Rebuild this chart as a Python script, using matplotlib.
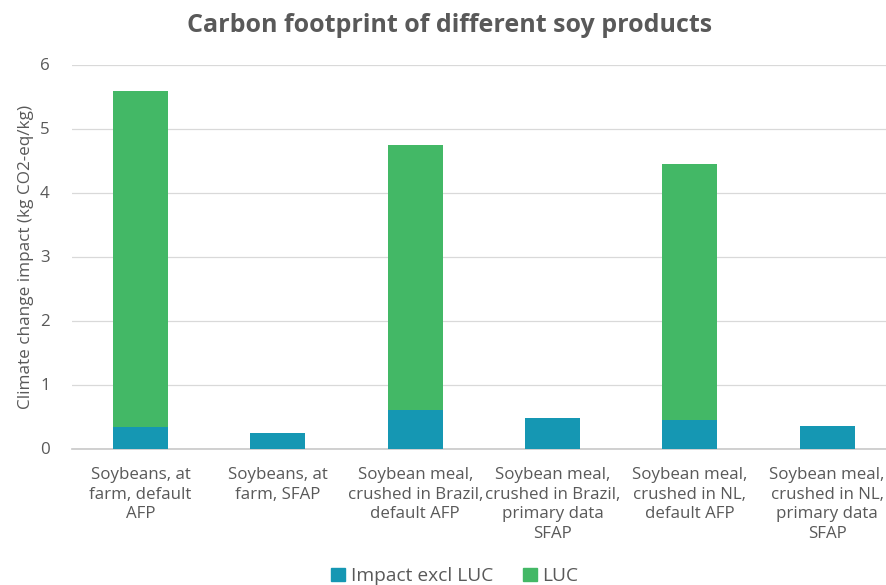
import matplotlib
matplotlib.use("Agg")
import matplotlib.pyplot as plt
from matplotlib.patches import Patch

plt.rcParams['font.family'] = ['Open Sans', 'DejaVu Sans']

categories = [
    "Soybeans, at\nfarm, default\nAFP",
    "Soybeans, at\nfarm, SFAP",
    "Soybean meal,\ncrushed in Brazil,\ndefault AFP",
    "Soybean meal,\ncrushed in Brazil,\nprimary data\nSFAP",
    "Soybean meal,\ncrushed in NL,\ndefault AFP",
    "Soybean meal,\ncrushed in NL,\nprimary data\nSFAP",
]
impact_excl_luc = [0.33, 0.25, 0.60, 0.48, 0.45, 0.35]
luc = [5.26, 0.0, 4.15, 0.0, 4.00, 0.0]
yticks = [0, 1, 2, 3, 4, 5, 6]

blue = "#1597b3"
green = "#43b866"
text_gray = "#595959"

W, H = 886, 585
fig = plt.figure(figsize=(W / 100, H / 100), dpi=100)
left, right = 72, 886
top, bottom = 64.5, 448.5
ax = fig.add_axes([left / W, (H - bottom) / H, (right - left) / W, (bottom - top) / H])

x = list(range(len(categories)))
ax.bar(x, impact_excl_luc, width=0.4, color=blue, label="Impact excl LUC", zorder=3)
ax.bar(x, luc, width=0.4, bottom=impact_excl_luc, color=green, label="LUC", zorder=3)

span = (right - left) / 137.3
ax.set_xlim(-0.5, -0.5 + span)
ax.set_ylim(0, 6)
ax.set_yticks(yticks)
ax.set_yticklabels([str(t) for t in yticks])
ax.set_xticks(x)
ax.set_xticklabels(categories, linespacing=1.33)

ax.grid(axis='y', color="#d9d9d9", linewidth=0.9, zorder=0)
for s in ['top', 'right', 'left']:
    ax.spines[s].set_visible(False)
ax.spines['bottom'].set_color("#c8c8c8")
ax.spines['bottom'].set_linewidth(1.2)
ax.tick_params(axis='both', length=0, colors=text_gray, labelsize=12.2)
ax.tick_params(axis='y', pad=16)
ax.tick_params(axis='x', pad=13)

ax.set_ylabel("Climate change impact (kg CO2-eq/kg)", color=text_gray, fontsize=12.3, labelpad=4)

fig.text(450 / W, 1 - 25 / H, "Carbon footprint of different soy products",
         ha='center', va='center', fontsize=18, fontweight='bold', color=text_gray)

handles = [Patch(color=blue), Patch(color=green)]
fig.legend(handles, ["Impact excl LUC", "LUC"], loc='center', bbox_to_anchor=(455 / W, 1 - 576 / H),
           ncol=2, frameon=False, fontsize=13.8, labelcolor=text_gray,
           handlelength=0.7, handleheight=0.7, handletextpad=0.3, columnspacing=1.6)

fig.savefig("out.png", dpi=100)
